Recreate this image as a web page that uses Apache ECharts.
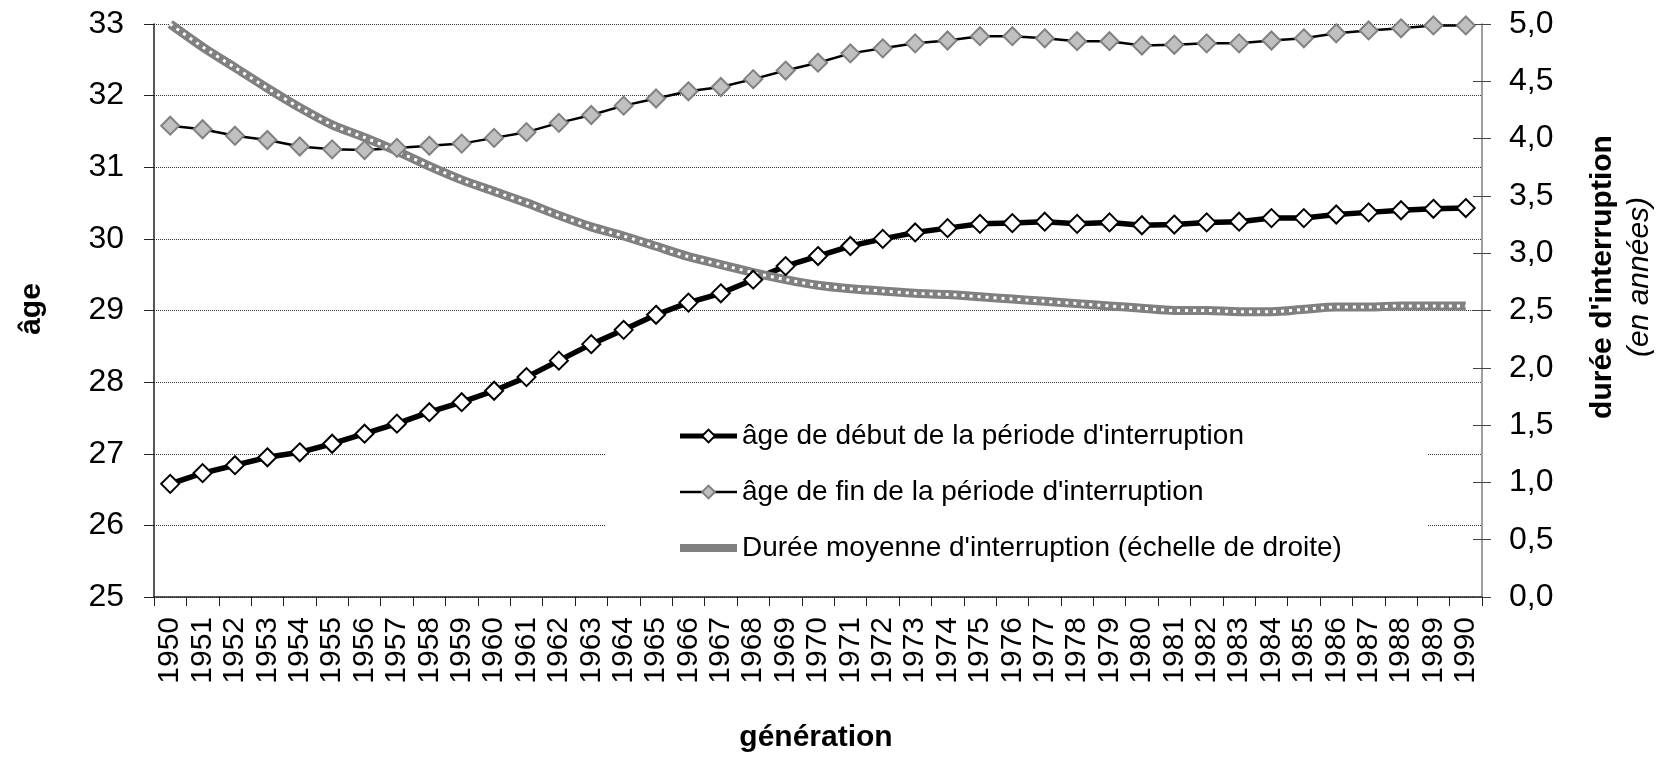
<!DOCTYPE html>
<html>
<head>
<meta charset="utf-8">
<title>Période d'interruption par génération</title>
<script src="https://cdn.jsdelivr.net/npm/echarts@6/dist/echarts.min.js"></script>
<style>
    html, body { margin: 0; padding: 0; background: #fff; }
    #chart { width: 1669px; height: 758px; }
</style>
</head>
<body>
<div id="chart"></div>
<script>
// generations (x axis)
var generations = ['1950','1951','1952','1953','1954','1955','1956','1957','1958','1959',
    '1960','1961','1962','1963','1964','1965','1966','1967','1968','1969',
    '1970','1971','1972','1973','1974','1975','1976','1977','1978','1979',
    '1980','1981','1982','1983','1984','1985','1986','1987','1988','1989','1990'];

// âge de début de la période d'interruption (left scale)
var ageDebut = [26.58, 26.73, 26.84, 26.95, 27.02, 27.14, 27.28, 27.42, 27.58, 27.72,
    27.88, 28.07, 28.30, 28.53, 28.73, 28.94, 29.11, 29.24, 29.43, 29.62,
    29.76, 29.90, 30.00, 30.09, 30.15, 30.21, 30.22, 30.24, 30.21, 30.23,
    30.19, 30.20, 30.23, 30.24, 30.29, 30.29, 30.34, 30.37, 30.40, 30.42, 30.43];

// âge de fin de la période d'interruption (left scale)
var ageFin = [31.58, 31.53, 31.44, 31.38, 31.29, 31.25, 31.24, 31.27, 31.30, 31.33,
    31.41, 31.49, 31.62, 31.73, 31.86, 31.96, 32.06, 32.12, 32.23, 32.35,
    32.46, 32.59, 32.66, 32.73, 32.77, 32.83, 32.83, 32.80, 32.76, 32.76,
    32.70, 32.71, 32.73, 32.73, 32.77, 32.80, 32.87, 32.91, 32.94, 32.98, 32.98];

// durée moyenne d'interruption (right scale, years)
var dureeMoyenne = [5.00, 4.80, 4.62, 4.44, 4.27, 4.12, 4.01, 3.89, 3.76, 3.64,
    3.54, 3.44, 3.33, 3.23, 3.15, 3.06, 2.97, 2.90, 2.83, 2.77,
    2.72, 2.69, 2.67, 2.65, 2.64, 2.62, 2.60, 2.58, 2.56, 2.54,
    2.52, 2.50, 2.50, 2.49, 2.49, 2.51, 2.53, 2.53, 2.54, 2.54, 2.54];

var leftTicks = {min: 25, max: 33, interval: 1};
var rightTicks = {min: 0, max: 5, interval: 0.5};

var names = [
    "âge de début de la période d'interruption",
    "âge de fin de la période d'interruption",
    "Durée moyenne d'interruption (échelle de droite)"
];

var FONT = 'Arial, "Liberation Sans", sans-serif';

var chart = echarts.init(document.getElementById('chart'));

var option = {
    backgroundColor: '#fff',
    animation: false,
    grid: {
        left: 154,
        right: 187,
        top: 24,
        bottom: 161,
        containLabel: false,
        outerBoundsMode: 'none'
    },
    legend: {
        data: [
            {name: names[0], lineStyle: {color: '#000', width: 5}},
            {name: names[1], lineStyle: {color: '#000', width: 2.5}},
            {name: names[2], lineStyle: {color: '#808080', width: 8}, itemStyle: {opacity: 0}}
        ],
        orient: 'vertical',
        left: 605,
        top: 405,
        padding: [15, 85, 13, 71],
        backgroundColor: '#fff',
        itemWidth: 57,
        itemHeight: 16,
        itemGap: 24,
        selectedMode: false,
        textStyle: {
            color: '#000',
            fontFamily: FONT,
            fontSize: 28,
            lineHeight: 32
        }
    },
    xAxis: {
        type: 'category',
        data: generations,
        boundaryGap: true,
        axisLine: {lineStyle: {color: '#222', width: 1.5}},
        axisTick: {show: true, interval: 0, length: 9, lineStyle: {color: '#222'}},
        axisLabel: {
            interval: 0,
            rotate: 90,
            margin: 20,
            color: '#000',
            fontFamily: FONT,
            fontSize: 30
        },
        splitLine: {show: false}
    },
    yAxis: [
        {
            type: 'value',
            position: 'left',
            min: leftTicks.min,
            max: leftTicks.max,
            interval: leftTicks.interval,
            axisLine: {show: true, lineStyle: {color: '#222', width: 1.5}},
            axisTick: {show: true, length: 10, lineStyle: {color: '#222'}},
            axisLabel: {margin: 30, color: '#000', fontFamily: FONT, fontSize: 32},
            splitLine: {show: true, lineStyle: {color: '#333', width: 1, type: [1, 1]}}
        },
        {
            type: 'value',
            position: 'right',
            min: rightTicks.min,
            max: rightTicks.max,
            interval: rightTicks.interval,
            axisLine: {show: true, lineStyle: {color: '#808080', width: 1.5}},
            axisTick: {show: true, length: 9, lineStyle: {color: '#444'}},
            axisLabel: {
                margin: 27,
                color: '#000',
                fontFamily: FONT,
                fontSize: 32,
                formatter: function (v) { return v.toFixed(1).replace('.', ','); }
            },
            splitLine: {show: false}
        },
        {
            // inner half of the crossing ticks on the right scale
            type: 'value',
            position: 'right',
            min: rightTicks.min,
            max: rightTicks.max,
            interval: rightTicks.interval,
            axisLine: {show: false},
            axisTick: {show: true, inside: true, length: 9, lineStyle: {color: '#444'}},
            axisLabel: {show: false},
            splitLine: {show: false}
        }
    ],
    graphic: [
        {
            type: 'text',
            x: 32,
            y: 309,
            rotation: Math.PI / 2,
            style: {
                text: 'âge',
                font: 'bold 30px ' + FONT,
                fill: '#000',
                align: 'center',
                verticalAlign: 'middle'
            }
        },
        {
            type: 'text',
            x: 816,
            y: 738,
            style: {
                text: 'génération',
                font: 'bold 30px ' + FONT,
                fill: '#000',
                align: 'center',
                verticalAlign: 'middle'
            }
        },
        {
            type: 'text',
            x: 1621,
            y: 277,
            rotation: Math.PI / 2,
            style: {
                text: "{b|durée d'interruption}\n{i|(en années)}",
                fill: '#000',
                align: 'center',
                verticalAlign: 'middle',
                rich: {
                    b: {font: 'bold 30px ' + FONT, lineHeight: 37, fill: '#000'},
                    i: {font: 'italic 30px ' + FONT, lineHeight: 37, fill: '#000'}
                }
            }
        }
    ],
    series: [
        {
            name: names[1],
            type: 'line',
            yAxisIndex: 0,
            data: ageFin,
            symbol: 'diamond',
            symbolSize: 18,
            lineStyle: {color: '#000', width: 2.5},
            itemStyle: {color: '#c0c0c0', borderColor: '#808080', borderWidth: 2}
        },
        {
            name: names[0],
            type: 'line',
            yAxisIndex: 0,
            data: ageDebut,
            symbol: 'diamond',
            symbolSize: 18,
            lineStyle: {color: '#000', width: 5.5},
            itemStyle: {color: '#fff', borderColor: '#000', borderWidth: 2}
        },
        {
            name: names[2],
            type: 'line',
            yAxisIndex: 1,
            data: dureeMoyenne,
            smooth: 0.3,
            symbol: 'none',
            lineStyle: {color: '#808080', width: 9},
            itemStyle: {color: '#808080'}
        },
        {
            name: 'durée (pointillés)',
            type: 'line',
            yAxisIndex: 1,
            data: dureeMoyenne,
            smooth: 0.3,
            symbol: 'none',
            silent: true,
            lineStyle: {color: '#fff', width: 3, type: [3, 5]}
        }
    ]
};

chart.setOption(option);
</script>
</body>
</html>
